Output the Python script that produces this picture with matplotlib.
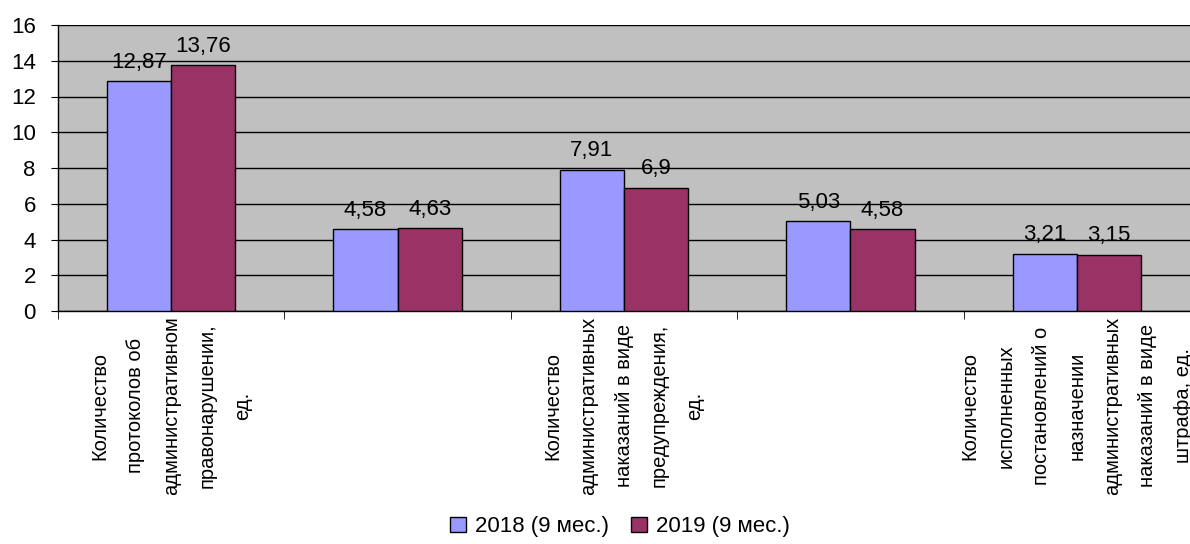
import matplotlib.pyplot as plt
import numpy as np
from matplotlib import font_manager
from matplotlib.patches import Patch

plt.rcParams["font.family"] = ["Liberation Sans", "DejaVu Sans"]

# data
CATEGORIES = [
    "Количество\nпротоколов об\nадминистративном\nправонарушении,\nед.",
    "",
    "Количество\nадминистративных\nнаказаний в виде\nпредупреждения,\nед.",
    "",
    "Количество\nисполненных\nпостановлений о\nназначении\nадминистративных\nнаказаний в виде\nштрафа, ед.",
]
SERIES_NAMES = ["2018 (9 мес.)", "2019 (9 мес.)"]
VALUES_2018 = [12.87, 4.58, 7.91, 5.03, 3.21]
VALUES_2019 = [13.76, 4.63, 6.9, 4.58, 3.15]
COLORS = ["#9999FF", "#993366"]

# narrow font for the rotated category labels, if present
names = {f.name for f in font_manager.fontManager.ttflist}
if "Liberation Sans Narrow" in names:
    label_font = dict(family="Liberation Sans Narrow", fontsize=18, linespacing=1.38)
else:
    label_font = dict(family="Liberation Sans", fontsize=14.5, linespacing=2.1)

fig = plt.figure(figsize=(11.9, 5.44), dpi=100)
ax = fig.add_axes([58 / 1190, 1 - 311 / 544, 1 - 58 / 1190, (311 - 25) / 544])
ax.set_facecolor("#C0C0C0")

x = np.arange(len(CATEGORIES))
width = 0.284
for i, (vals, name, color) in enumerate(zip([VALUES_2018, VALUES_2019], SERIES_NAMES, COLORS)):
    pos = x + (i - 0.5) * width
    ax.bar(pos, vals, width, color=color, edgecolor="black", linewidth=1, label=name, zorder=3)
    for px, v in zip(pos, vals):
        ax.annotate(str(v).replace(".", ","), (px, v), xytext=(0, 6), textcoords="offset points",
                    ha="center", va="bottom", fontsize=16, zorder=4)

ax.set_ylim(0, 16)
ax.set_yticks(range(0, 17, 2))
ax.set_xlim(-0.5, -0.5 + (1190 - 58) / 228.5)
ax.yaxis.grid(True, color="black", linewidth=1)
ax.set_axisbelow(True)

ax.set_xticks(x)
ax.set_xticklabels(CATEGORIES, rotation=90, ha="center", va="top", multialignment="center", **label_font)
ax.set_xticks(np.arange(-0.5, len(CATEGORIES), 1), minor=True)
ax.tick_params(axis="x", which="major", length=0, pad=4)
ax.tick_params(axis="x", which="minor", length=6, color="black", direction="out")
ax.tick_params(axis="y", length=5, labelsize=16, pad=11, direction="out")

for side in ["top", "right"]:
    ax.spines[side].set_visible(False)
ax.spines["left"].set_linewidth(1)
ax.spines["bottom"].set_linewidth(1)

handles = [Patch(facecolor=c, edgecolor="black", label=n) for c, n in zip(COLORS, SERIES_NAMES)]
fig.legend(handles=handles, loc="center", bbox_to_anchor=(0.521, 0.032), ncol=2, frameon=False,
           fontsize=16, handlelength=0.7, handleheight=0.7, handletextpad=0.4, columnspacing=1.0,
           borderpad=0)

fig.savefig("out.png", dpi=100)
